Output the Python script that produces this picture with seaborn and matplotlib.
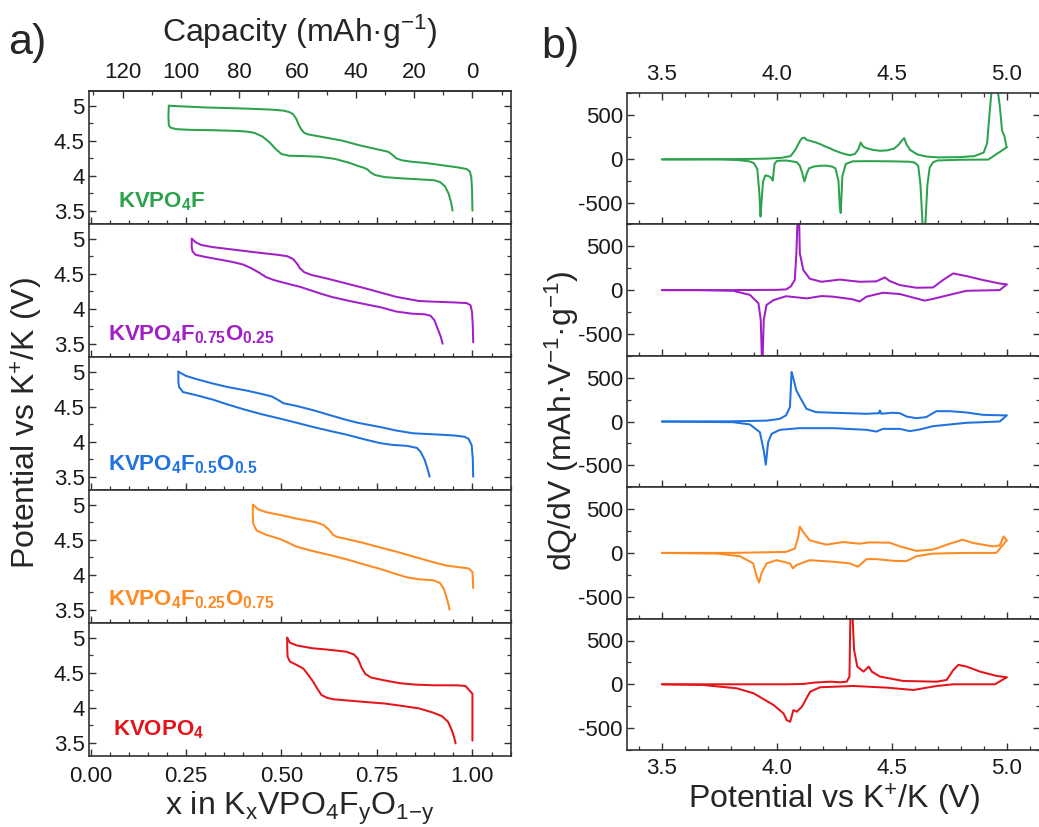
import numpy as np
import pandas as pd
import matplotlib
matplotlib.use("Agg")
import matplotlib.pyplot as plt
from matplotlib.ticker import MultipleLocator, FormatStrFormatter, FuncFormatter
import seaborn as sns

# ---------------- data: galvanostatic curves (x in KxVPO4FyO1-y, V) ----------------
names = [r"KVPO$_\mathbf{4}$F",
         r"KVPO$_\mathbf{4}$F$_\mathbf{0.75}$O$_\mathbf{0.25}$",
         r"KVPO$_\mathbf{4}$F$_\mathbf{0.5}$O$_\mathbf{0.5}$",
         r"KVPO$_\mathbf{4}$F$_\mathbf{0.25}$O$_\mathbf{0.75}$",
         r"KVOPO$_\mathbf{4}$"]
colors = ["#2ca24c", "#a21fc8", "#1f72e0", "#ff8a22", "#e4141a"]

f100_chg_x = [1.000, 0.999, 0.997, 0.993, 0.985, 0.96, 0.92, 0.88, 0.84, 0.815, 0.80, 0.79, 0.78, 0.765, 0.74, 0.70, 0.66, 0.62, 0.59, 0.57, 0.56, 0.552, 0.545, 0.538, 0.53, 0.52, 0.505, 0.47, 0.40, 0.30, 0.24, 0.205]
f100_chg_v = [3.50, 3.80, 3.98, 4.06, 4.095, 4.12, 4.15, 4.18, 4.20, 4.22, 4.25, 4.30, 4.34, 4.36, 4.39, 4.44, 4.50, 4.54, 4.57, 4.59, 4.61, 4.66, 4.73, 4.82, 4.88, 4.91, 4.93, 4.945, 4.96, 4.975, 4.99, 5.00]
f100_dis_x = [0.205, 0.204, 0.205, 0.21, 0.225, 0.26, 0.32, 0.38, 0.41, 0.43, 0.45, 0.47, 0.485, 0.50, 0.52, 0.56, 0.60, 0.64, 0.68, 0.70, 0.715, 0.725, 0.735, 0.745, 0.77, 0.82, 0.87, 0.90, 0.915, 0.928, 0.938, 0.944, 0.948]
f100_dis_v = [5.00, 4.85, 4.72, 4.685, 4.665, 4.655, 4.65, 4.64, 4.63, 4.61, 4.56, 4.47, 4.38, 4.31, 4.285, 4.28, 4.27, 4.24, 4.18, 4.14, 4.115, 4.09, 4.04, 4.01, 3.98, 3.96, 3.945, 3.935, 3.91, 3.85, 3.74, 3.62, 3.50]

f75_chg_x = [1.002, 1.001, 0.999, 0.995, 0.985, 0.95, 0.90, 0.86, 0.83, 0.80, 0.76, 0.72, 0.67, 0.62, 0.58, 0.56, 0.548, 0.54, 0.53, 0.515, 0.49, 0.44, 0.38, 0.32, 0.29, 0.275, 0.265]
f75_chg_v = [3.52, 3.75, 3.95, 4.05, 4.08, 4.09, 4.10, 4.11, 4.14, 4.17, 4.23, 4.29, 4.36, 4.43, 4.48, 4.52, 4.58, 4.65, 4.71, 4.75, 4.77, 4.80, 4.84, 4.88, 4.91, 4.95, 5.00]
f75_dis_x = [0.265, 0.265, 0.267, 0.275, 0.30, 0.34, 0.37, 0.40, 0.42, 0.44, 0.46, 0.48, 0.50, 0.55, 0.60, 0.63, 0.67, 0.714, 0.76, 0.80, 0.84, 0.875, 0.89, 0.90, 0.91, 0.917, 0.922]
f75_dis_v = [5.00, 4.88, 4.82, 4.77, 4.74, 4.70, 4.67, 4.63, 4.58, 4.52, 4.45, 4.41, 4.38, 4.31, 4.22, 4.17, 4.12, 4.07, 4.02, 3.96, 3.93, 3.92, 3.90, 3.84, 3.70, 3.60, 3.50]

f50_chg_x = [1.002, 1.001, 0.998, 0.99, 0.98, 0.95, 0.90, 0.845, 0.80, 0.758, 0.70, 0.671, 0.62, 0.583, 0.54, 0.505, 0.49, 0.475, 0.45, 0.409, 0.36, 0.321, 0.28, 0.25, 0.23]
f50_chg_v = [3.50, 3.75, 3.95, 4.04, 4.07, 4.09, 4.105, 4.12, 4.16, 4.21, 4.27, 4.31, 4.39, 4.45, 4.51, 4.55, 4.60, 4.645, 4.68, 4.73, 4.78, 4.83, 4.89, 4.94, 5.00]
f50_dis_x = [0.23, 0.23, 0.232, 0.242, 0.28, 0.321, 0.36, 0.409, 0.45, 0.496, 0.54, 0.583, 0.63, 0.671, 0.72, 0.758, 0.79, 0.83, 0.855, 0.865, 0.875, 0.882, 0.888]
f50_dis_v = [5.00, 4.85, 4.78, 4.71, 4.66, 4.60, 4.53, 4.45, 4.39, 4.33, 4.27, 4.21, 4.15, 4.10, 4.03, 3.98, 3.955, 3.94, 3.91, 3.85, 3.74, 3.62, 3.50]

f25_chg_x = [1.002, 1.001, 1.000, 0.99, 0.96, 0.932, 0.89, 0.845, 0.80, 0.758, 0.71, 0.671, 0.645, 0.635, 0.625, 0.61, 0.59, 0.54, 0.50, 0.462, 0.44, 0.425]
f25_chg_v = [3.81, 3.95, 4.04, 4.09, 4.11, 4.13, 4.19, 4.26, 4.33, 4.39, 4.46, 4.51, 4.54, 4.57, 4.64, 4.71, 4.75, 4.80, 4.85, 4.89, 4.93, 5.00]
f25_dis_x = [0.425, 0.425, 0.426, 0.435, 0.46, 0.496, 0.52, 0.54, 0.58, 0.627, 0.67, 0.714, 0.76, 0.80, 0.83, 0.86, 0.898, 0.915, 0.925, 0.932, 0.937, 0.94]
f25_dis_v = [5.00, 4.85, 4.73, 4.63, 4.57, 4.51, 4.45, 4.40, 4.34, 4.28, 4.22, 4.15, 4.08, 4.01, 3.96, 3.935, 3.92, 3.88, 3.80, 3.68, 3.58, 3.50]

f0_chg_x = [1.000, 1.000, 1.000, 1.000, 0.99, 0.982, 0.96, 0.90, 0.85, 0.81, 0.77, 0.735, 0.72, 0.71, 0.70, 0.69, 0.67, 0.62, 0.58, 0.54, 0.522, 0.515]
f0_chg_v = [3.53, 3.80, 4.05, 4.20, 4.26, 4.31, 4.32, 4.32, 4.33, 4.35, 4.39, 4.43, 4.48, 4.57, 4.70, 4.76, 4.80, 4.83, 4.85, 4.89, 4.93, 5.00]
f0_dis_x = [0.515, 0.515, 0.516, 0.522, 0.54, 0.557, 0.57, 0.583, 0.595, 0.605, 0.62, 0.636, 0.68, 0.723, 0.77, 0.81, 0.86, 0.897, 0.92, 0.936, 0.946, 0.952, 0.956]
f0_dis_v = [5.00, 4.85, 4.73, 4.66, 4.61, 4.56, 4.47, 4.37, 4.26, 4.18, 4.14, 4.12, 4.10, 4.08, 4.06, 4.03, 3.99, 3.93, 3.88, 3.80, 3.68, 3.58, 3.49]

# ---------------- data: dQ/dV curves (E, dQ/dV) ----------------
g100_chg_e = [3.50, 3.80, 3.95, 4.02, 4.06, 4.08, 4.10, 4.11, 4.12, 4.13, 4.15, 4.17, 4.19, 4.21, 4.23, 4.25, 4.275, 4.30, 4.32, 4.34, 4.355, 4.365, 4.375, 4.39, 4.42, 4.45, 4.48, 4.51, 4.53, 4.545, 4.554, 4.565, 4.58, 4.61, 4.65, 4.70, 4.80, 4.86, 4.90, 4.915, 4.925, 4.935, 4.96, 4.97, 4.98, 4.99, 5.00]
g100_chg_q = [-8, -5, 0, 10, 30, 100, 200, 235, 240, 215, 200, 185, 165, 140, 120, 95, 70, 50, 40, 55, 110, 185, 140, 120, 100, 90, 95, 115, 160, 210, 235, 160, 100, 50, 25, 15, 18, 30, 70, 180, 500, 800, 800, 600, 320, 260, 130]
g100_dis_e = [5.00, 4.96, 4.92, 4.80, 4.70, 4.68, 4.665, 4.655, 4.645, 4.635, 4.625, 4.615, 4.60, 4.58, 4.50, 4.40, 4.33, 4.30, 4.285, 4.278, 4.274, 4.268, 4.255, 4.24, 4.217, 4.19, 4.16, 4.14, 4.13, 4.12, 4.11, 4.10, 4.087, 4.04, 4.00, 3.99, 3.982, 3.976, 3.965, 3.95, 3.94, 3.933, 3.929, 3.924, 3.915, 3.90, 3.88, 3.83, 3.75, 3.50]
g100_dis_q = [130, 60, -10, -12, -20, -40, -100, -300, -800, -800, -300, -80, -45, -35, -30, -28, -30, -60, -200, -620, -550, -250, -110, -90, -80, -80, -90, -110, -170, -260, -160, -80, -40, -20, -25, -60, -250, -220, -200, -190, -260, -500, -660, -400, -120, -50, -30, -15, -8, -8]

g75_chg_e = [3.50, 3.80, 4.00, 4.04, 4.06, 4.078, 4.085, 4.09, 4.097, 4.10, 4.115, 4.143, 4.194, 4.274, 4.36, 4.433, 4.47, 4.49, 4.535, 4.607, 4.68, 4.723, 4.767, 4.825, 4.897, 4.97, 5.00]
g75_chg_q = [0, 0, 3, 8, 40, 115, 420, 800, 800, 420, 230, 130, 95, 120, 95, 100, 145, 105, 57, 27, 30, 115, 190, 160, 115, 75, 65]
g75_dis_e = [5.00, 4.97, 4.825, 4.75, 4.68, 4.643, 4.607, 4.535, 4.462, 4.39, 4.36, 4.33, 4.245, 4.194, 4.13, 4.04, 3.985, 3.955, 3.943, 3.938, 3.935, 3.93, 3.92, 3.883, 3.81, 3.66, 3.50]
g75_dis_q = [65, 0, -8, -55, -100, -120, -95, -45, -30, -75, -130, -105, -75, -68, -95, -70, -115, -170, -340, -800, -800, -340, -150, -55, -8, 0, 0]

g50_chg_e = [3.50, 3.80, 3.955, 4.013, 4.04, 4.057, 4.064, 4.07, 4.085, 4.10, 4.129, 4.17, 4.245, 4.39, 4.445, 4.448, 4.455, 4.50, 4.535, 4.564, 4.607, 4.65, 4.694, 4.752, 4.825, 4.897, 5.00]
g50_chg_q = [0, 2, 10, 30, 70, 165, 565, 510, 355, 280, 145, 107, 100, 88, 95, 126, 88, 100, 95, 57, 38, 50, 118, 118, 103, 76, 69]
g50_dis_e = [5.00, 4.97, 4.825, 4.68, 4.62, 4.578, 4.535, 4.462, 4.433, 4.39, 4.245, 4.10, 4.013, 3.977, 3.962, 3.952, 3.943, 3.926, 3.883, 3.81, 3.50]
g50_dis_q = [69, 0, -15, -53, -92, -110, -84, -84, -115, -95, -76, -76, -95, -141, -237, -493, -330, -122, -34, -8, 0]

g25_chg_e = [3.50, 3.80, 4.04, 4.078, 4.093, 4.10, 4.115, 4.143, 4.216, 4.288, 4.36, 4.403, 4.49, 4.535, 4.607, 4.68, 4.752, 4.81, 4.854, 4.94, 4.97, 4.987, 5.00]
g25_chg_q = [0, 0, 11, 49, 180, 300, 237, 143, 94, 124, 105, 120, 117, 75, 23, 38, 105, 150, 113, 75, 86, 188, 143]
g25_dis_e = [5.00, 4.955, 4.825, 4.68, 4.607, 4.564, 4.506, 4.433, 4.39, 4.353, 4.317, 4.245, 4.143, 4.085, 4.07, 4.057, 3.999, 3.955, 3.933, 3.923, 3.912, 3.897, 3.84, 3.74, 3.50]
g25_dis_q = [143, 0, 0, -8, -38, -94, -90, -71, -71, -158, -120, -101, -83, -139, -177, -120, -83, -120, -233, -338, -270, -120, -38, -8, 0]

g0_chg_e = [3.50, 3.80, 4.04, 4.116, 4.16, 4.232, 4.275, 4.304, 4.316, 4.32, 4.329, 4.336, 4.35, 4.377, 4.40, 4.413, 4.449, 4.55, 4.696, 4.739, 4.768, 4.79, 4.826, 4.884, 4.957, 5.00]
g0_chg_q = [0, 0, 0, 4, 19, 30, 23, 30, 88, 800, 800, 393, 202, 145, 202, 145, 88, 38, 30, 50, 164, 222, 202, 145, 95, 80]
g0_dis_e = [5.00, 4.949, 4.768, 4.696, 4.594, 4.478, 4.333, 4.188, 4.145, 4.109, 4.087, 4.072, 4.058, 4.043, 4.029, 3.986, 3.899, 3.826, 3.68, 3.50]
g0_dis_q = [80, 0, 0, -19, -65, -38, -19, -34, -84, -256, -313, -294, -428, -409, -332, -237, -103, -46, -8, 0]

galv = [(f100_chg_x, f100_chg_v, f100_dis_x, f100_dis_v),
        (f75_chg_x, f75_chg_v, f75_dis_x, f75_dis_v),
        (f50_chg_x, f50_chg_v, f50_dis_x, f50_dis_v),
        (f25_chg_x, f25_chg_v, f25_dis_x, f25_dis_v),
        (f0_chg_x, f0_chg_v, f0_dis_x, f0_dis_v)]
dqdv = [(g100_chg_e, g100_chg_q, g100_dis_e, g100_dis_q),
        (g75_chg_e, g75_chg_q, g75_dis_e, g75_dis_q),
        (g50_chg_e, g50_chg_q, g50_dis_e, g50_dis_q),
        (g25_chg_e, g25_chg_q, g25_dis_e, g25_dis_q),
        (g0_chg_e, g0_chg_q, g0_dis_e, g0_dis_q)]

theor_capacity = 131.0
cap_ticks = [0, 20, 40, 60, 80, 100, 120]
x_ticks = [0.00, 0.25, 0.50, 0.75, 1.00]
v_ticks = [3.5, 4.0, 4.5, 5.0]
e_ticks = [3.5, 4.0, 4.5, 5.0]
q_ticks = [-500, 0, 500]

# ---------------- style ----------------
sns.set_theme(style="ticks")
plt.rcParams.update({
    "font.family": ["Liberation Sans", "DejaVu Sans"],
    "mathtext.fontset": "custom",
    "mathtext.rm": "Liberation Sans",
    "mathtext.it": "Liberation Sans:italic",
    "mathtext.bf": "Liberation Sans:bold",
    "axes.unicode_minus": False,
    "axes.edgecolor": "#333333",
    "axes.linewidth": 1.2,
    "xtick.direction": "in", "ytick.direction": "in",
    "xtick.major.size": 5, "ytick.major.size": 5,
    "xtick.minor.size": 2.8, "ytick.minor.size": 2.8,
    "xtick.major.width": 1.0, "ytick.major.width": 1.0,
    "xtick.minor.width": 0.9, "ytick.minor.width": 0.9,
    "xtick.color": "#333333", "ytick.color": "#333333",
    "xtick.labelcolor": "#1a1a1a", "ytick.labelcolor": "#1a1a1a",
    "xtick.labelsize": 16, "ytick.labelsize": 16,
})

W, H = 1039, 827
fig = plt.figure(figsize=(W / 100, H / 100), dpi=100)

def rect(l, t, r, b):
    return [l / W, 1 - b / H, (r - l) / W, (b - t) / H]

lab_pos = [(0.069, 0.128), (0.045, 0.128), (0.045, 0.15), (0.045, 0.135), (0.057, 0.158)]
lw = 1.45
label_fs = 23
kplus = r"Potential vs $\mathregular{K^{{+}}}$/K (V)"

# ---------- left column ----------
left_axes = []
for i in range(5):
    t = 91 + i * 133
    ax = fig.add_axes(rect(89, t, 511, t + 133))
    cx, cv, dx, dv = galv[i]
    sns.lineplot(x=cx, y=cv, sort=False, estimator=None, ax=ax, color=colors[i], lw=lw)
    sns.lineplot(x=dx, y=dv, sort=False, estimator=None, ax=ax, color=colors[i], lw=lw)
    ax.set_xlim(-0.004, 1.101)
    ax.set_ylim(3.31, 5.21)
    ax.set_xticks(x_ticks)
    ax.xaxis.set_minor_locator(MultipleLocator(0.05))
    ax.set_yticks(v_ticks)
    ax.yaxis.set_minor_locator(MultipleLocator(0.25))
    ax.yaxis.set_major_formatter(FuncFormatter(lambda v, p: f"{v:g}"))
    ax.xaxis.set_major_formatter(FormatStrFormatter("%.2f"))
    ax.tick_params(axis="y", which="both", left=True, right=True, pad=3)
    ax.tick_params(axis="x", which="both", top=False, bottom=True, pad=7,
                   labelbottom=(i == 4))
    ax.set_xlabel(""); ax.set_ylabel("")
    for s in ax.spines.values():
        s.set_visible(True)
    ax.text(lab_pos[i][0], lab_pos[i][1], names[i], transform=ax.transAxes,
            color=colors[i], fontsize=16, fontweight="bold", ha="left", va="baseline")
    left_axes.append(ax)

top = left_axes[0].secondary_xaxis(
    "top", functions=(lambda x: (1 - x) * theor_capacity, lambda c: 1 - c / theor_capacity))
top.set_xticks(cap_ticks)
top.xaxis.set_minor_locator(MultipleLocator(10))
top.tick_params(axis="x", which="both", direction="in", pad=6)
top.set_xlabel(r"Capacity (mAh·$\mathregular{g^{-1}}$)", fontsize=label_fs, labelpad=14)

left_axes[-1].set_xlabel(r"x in $\mathregular{K_xVPO_4F_yO_{1{-}y}}$",
                         fontsize=label_fs, labelpad=2)
fig.text(27 / W, 1 - 423 / H, kplus, rotation=90,
         fontsize=label_fs, ha="center", va="center")

# ---------- right column ----------
right_axes = []
ph = 131.4
for i in range(5):
    t = 93 + i * ph
    ax = fig.add_axes(rect(627, t, 1040, t + ph))
    ce, cq, de, dq = dqdv[i]
    sns.lineplot(x=ce, y=cq, sort=False, estimator=None, ax=ax, color=colors[i], lw=lw)
    sns.lineplot(x=de, y=dq, sort=False, estimator=None, ax=ax, color=colors[i], lw=lw)
    ax.set_xlim(3.348, 5.145)
    ax.set_ylim(-750, 750)
    ax.set_xticks(e_ticks)
    ax.xaxis.set_minor_locator(MultipleLocator(0.1))
    ax.xaxis.set_major_formatter(FormatStrFormatter("%.1f"))
    ax.set_yticks(q_ticks)
    ax.yaxis.set_minor_locator(MultipleLocator(250))
    ax.tick_params(axis="y", which="both", left=True, right=True, pad=3)
    ax.tick_params(axis="x", which="both", bottom=True, top=(i == 0), pad=6,
                   labelbottom=(i == 4), labeltop=(i == 0))
    ax.set_xlabel(""); ax.set_ylabel("")
    for s in ax.spines.values():
        s.set_visible(True)
    right_axes.append(ax)

right_axes[-1].set_xlabel(kplus, fontsize=label_fs, labelpad=2)
fig.text(562 / W, 1 - 421 / H, r"dQ/dV (mAh·$\mathregular{V^{-1}}$·$\mathregular{g^{-1}}$)",
         rotation=90, fontsize=label_fs, ha="center", va="center")

fig.text(8 / W, 1 - 43 / H, "a)", fontsize=31, ha="left", va="center")
fig.text(541 / W, 1 - 47 / H, "b)", fontsize=31, ha="left", va="center")

fig.savefig("out.png", dpi=100)
